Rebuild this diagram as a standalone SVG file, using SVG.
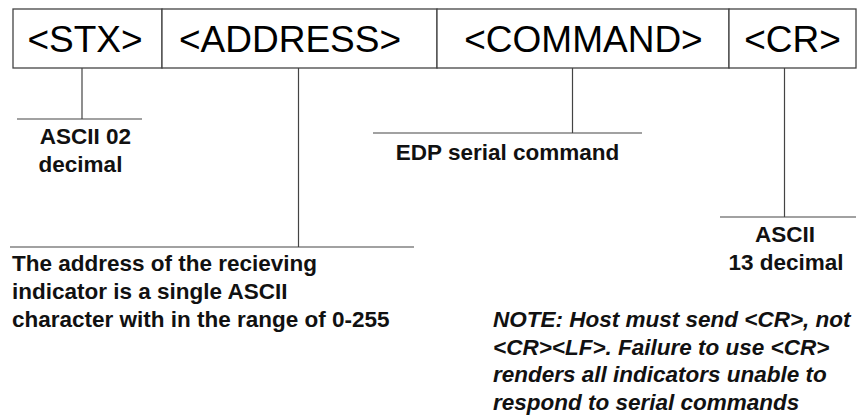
<svg xmlns="http://www.w3.org/2000/svg" width="863" height="419" viewBox="0 0 863 419">
<style>
.box{fill:#fff;stroke:#444;stroke-width:1.3}
.field{font-family:"Liberation Sans",Arial,sans-serif;font-size:37px;fill:#000;text-anchor:middle}
.lbl{font-family:"Liberation Sans",Arial,sans-serif;font-size:22.5px;font-weight:bold;fill:#111}
.mid{text-anchor:middle}
.note{font-style:italic}
.conn line{stroke:#444;stroke-width:1.2}
</style>
<rect width="863" height="419" fill="#fff"/>
<g id="node-stx">
<rect class="box" x="13" y="9" width="149" height="59"/>
<text class="field" x="85" y="52">&lt;STX&gt;</text>
</g>
<g id="node-address">
<rect class="box" x="162" y="9" width="275" height="59"/>
<text class="field" x="290" y="52">&lt;ADDRESS&gt;</text>
</g>
<g id="node-command">
<rect class="box" x="437" y="9" width="292" height="59"/>
<text class="field" x="583.5" y="52">&lt;COMMAND&gt;</text>
</g>
<g id="node-cr">
<rect class="box" x="729" y="9" width="127" height="59"/>
<text class="field" x="792.5" y="52">&lt;CR&gt;</text>
</g>
<g id="connectors" class="conn">
<line x1="82" y1="68" x2="82" y2="119"/>
<line x1="17" y1="119" x2="142" y2="119"/>
<line x1="298.5" y1="68" x2="298.5" y2="247"/>
<line x1="10" y1="247" x2="414" y2="247"/>
<line x1="572.5" y1="68" x2="572.5" y2="133"/>
<line x1="373" y1="133" x2="642" y2="133"/>
<line x1="784.5" y1="68" x2="784.5" y2="217"/>
<line x1="720" y1="217" x2="856" y2="217"/>
</g>
<g id="label-stx">
<text class="lbl mid" x="85.5" y="144">ASCII 02</text>
<text class="lbl mid" x="80.5" y="172">decimal</text>
</g>
<g id="label-command">
<text class="lbl mid" x="507.5" y="160">EDP serial command</text>
</g>
<g id="label-cr">
<text class="lbl mid" x="785" y="242">ASCII</text>
<text class="lbl mid" x="786" y="270">13 decimal</text>
</g>
<g id="label-address">
<text class="lbl" x="12" y="271">The address of the recieving</text>
<text class="lbl" x="12" y="299">indicator is a single ASCII</text>
<text class="lbl" x="12" y="327">character with in the range of 0-255</text>
</g>
<g id="label-note">
<text class="lbl note" x="493" y="327">NOTE: Host must send &lt;CR&gt;, not</text>
<text class="lbl note" x="493" y="354.5">&lt;CR&gt;&lt;LF&gt;. Failure to use &lt;CR&gt;</text>
<text class="lbl note" x="493" y="382">renders all indicators unable to</text>
<text class="lbl note" x="493" y="409.5">respond to serial commands</text>
</g>
</svg>
